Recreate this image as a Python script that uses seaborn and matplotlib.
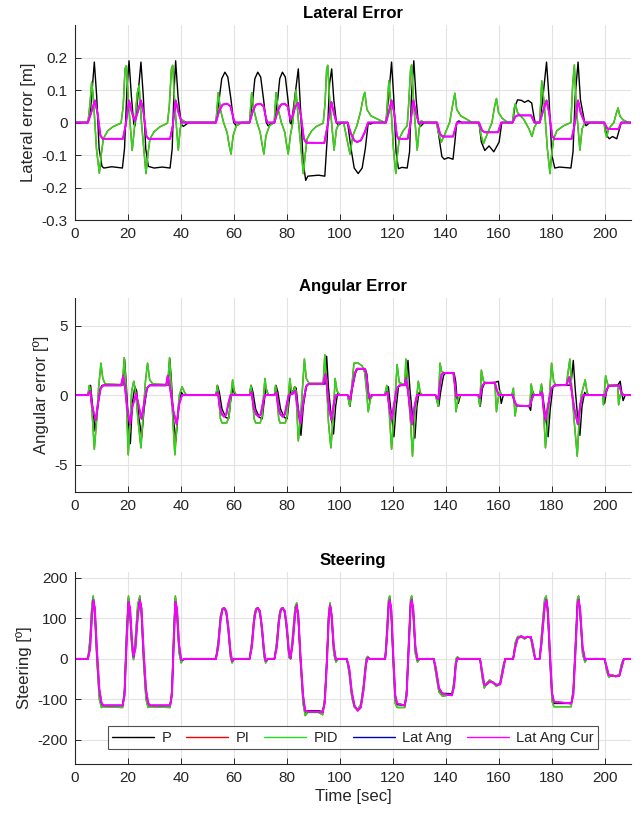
import matplotlib
matplotlib.use("Agg")
import matplotlib.pyplot as plt
from matplotlib.lines import Line2D
import seaborn as sns

# ---------------- data (time [s], value) knots ----------------
SERIES = ["P", "PI", "PID", "Lat Ang", "Lat Ang Cur"]
X_TICKS = [0, 20, 40, 60, 80, 100, 120, 140, 160, 180, 200]

LAT_TICKS = [-0.3, -0.2, -0.1, 0, 0.1, 0.2]
LAT_TICKLABELS = ["-0.3", "-0.2", "-0.1", "0", "0.1", "0.2"]
ANG_TICKS = [-5, 0, 5]
STEER_TICKS = [-200, -100, 0, 100, 200]

LAT_P = [(0, 0), (5.0, 0), (6.0, 0.04), (7.4, 0.186), (8.3, 0.08), (9.2, -0.08), (10.3, -0.135), (11.0, -0.14),
         (14.0, -0.136), (18.0, -0.14), (18.8, -0.08), (19.7, 0.1), (20.5, 0.19), (21.4, 0.08), (22.3, -0.005),
         (22.8, -0.01), (23.5, 0.05), (25.0, 0.186), (25.9, 0.08), (26.8, -0.08), (27.8, -0.135), (30.0, -0.14),
         (33.0, -0.137), (36.0, -0.14), (36.8, -0.08), (37.4, 0.08), (38.1, 0.19), (39.0, 0.08), (40.2, -0.005),
         (41.0, -0.012), (43.0, 0),
         (53.3, 0), (54.5, 0.07), (55.5, 0.135), (56.7, 0.155), (57.8, 0.14), (59.0, 0.07), (60.0, 0.0),
         (61.0, -0.01), (63.0, 0),
         (66.0, 0), (67.2, 0.07), (68.0, 0.135), (69.1, 0.155), (70.2, 0.14), (71.3, 0.07), (72.3, 0.0),
         (73.0, -0.01), (74.8, 0),
         (75.4, 0), (76.6, 0.07), (77.4, 0.135), (78.4, 0.155), (79.5, 0.14), (80.5, 0.07), (81.3, 0.0),
         (81.8, -0.005), (82.8, 0.06), (84.4, 0.165), (85.2, 0.05), (86.2, -0.12), (87.2, -0.178), (88.0, -0.165),
         (92.0, -0.162), (94.4, -0.165), (95.3, -0.05), (96.2, 0.12), (97.0, 0.165), (97.8, 0.07), (98.8, 0.0),
         (99.5, -0.008), (101.0, 0),
         (103.0, 0), (104.3, -0.08), (105.5, -0.14), (107.0, -0.157), (108.5, -0.14), (109.7, -0.08), (110.8, 0.0),
         (111.5, -0.005), (113.0, 0),
         (117.5, 0), (118.5, 0.08), (119.6, 0.186), (120.4, 0.08), (121.3, -0.09), (122.2, -0.142), (123.5, -0.138),
         (125.5, -0.14), (126.4, -0.09), (127.1, 0.08), (128.0, 0.19), (128.9, 0.07), (129.7, 0.0), (130.5, -0.012),
         (132.0, 0),
         (136.8, 0), (137.6, -0.05), (138.6, -0.105), (139.5, -0.113), (141.0, -0.108), (142.8, -0.113),
         (143.5, -0.06), (144.2, 0.0), (145.0, 0.005), (146.0, 0),
         (152.6, 0), (153.5, -0.06), (154.8, -0.086), (156.4, -0.072), (158.2, -0.09), (160.2, -0.06), (161.2, 0.0),
         (165.3, 0), (166.2, 0.05), (167.2, 0.07), (168.7, 0.068), (169.8, 0.062), (171.2, 0.068), (172.5, 0.06),
         (173.3, 0.02), (173.8, 0),
         (175.5, 0), (176.5, 0.06), (178.1, 0.186), (179.0, 0.08), (180.1, -0.1), (181.2, -0.14), (183.0, -0.137),
         (187.3, -0.14), (188.1, -0.09), (188.9, 0.08), (190.0, 0.186), (190.9, 0.07), (192.5, 0.0), (193.0, -0.01),
         (194.5, 0),
         (199.9, 0), (200.8, -0.04), (201.8, -0.05), (203.0, -0.043), (204.6, -0.05), (205.3, -0.03), (206.3, 0.0),
         (210.0, 0)]

LAT_PID = [(0, 0), (5.0, 0), (5.8, 0.06), (6.4, 0.124), (7.0, 0.08), (8.2, -0.08), (9.3, -0.156), (10.0, -0.1),
           (10.8, -0.05), (12.5, -0.025), (14.6, -0.012), (17.5, -0.002), (18.3, 0.05), (19.0, 0.165), (19.5, 0.175),
           (20.3, 0.06), (21.7, -0.086), (22.5, -0.02), (23.6, 0.09), (24.3, 0.114), (25.2, 0.0), (26.9, -0.157),
           (27.6, -0.1), (28.4, -0.05), (30.0, -0.028), (32.2, -0.013), (35.0, -0.002), (35.7, 0.05), (36.5, 0.165),
           (37.0, 0.176), (37.8, 0.05), (39.1, -0.085), (39.8, -0.02), (40.6, 0.008), (42.0, 0),
           (53.3, 0), (54.2, 0.092), (55.0, 0.04), (56.2, 0.0), (57.5, -0.03), (58.3, -0.07), (59.0, -0.097),
           (59.8, -0.04), (61.0, -0.01), (63.0, 0),
           (66.0, 0), (66.8, 0.092), (67.6, 0.04), (68.8, 0.0), (70.0, -0.03), (70.8, -0.07), (71.4, -0.097),
           (72.2, -0.04), (73.5, -0.01), (75.3, 0),
           (76.0, 0.092), (76.8, 0.04), (78.0, 0.0), (79.3, -0.03), (80.0, -0.07), (80.6, -0.097), (81.4, -0.04),
           (82.3, 0.0), (83.5, 0.1), (84.5, 0.0), (86.3, -0.157), (87.0, -0.1), (87.7, -0.05), (89.5, -0.025),
           (91.2, -0.012), (93.8, -0.002), (94.5, 0.06), (95.1, 0.165), (95.5, 0.176), (96.3, 0.06), (97.9, -0.085),
           (98.8, -0.02), (100.0, 0),
           (101.5, 0), (102.5, -0.04), (103.9, -0.097), (105.0, -0.04), (106.5, -0.01), (107.8, 0.03), (109.0, 0.08),
           (109.5, 0.093), (110.3, 0.04), (111.9, 0.02), (115.0, 0.008), (117.0, 0),
           (117.5, 0), (118.0, 0.06), (118.6, 0.128), (119.3, 0.06), (120.3, -0.08), (121.2, -0.157), (121.8, -0.1),
           (122.5, -0.05), (124.0, -0.025), (125.5, -0.01), (126.0, 0.05), (126.8, 0.165), (127.2, 0.177),
           (128.0, 0.05), (129.3, -0.085), (130.0, -0.02), (130.8, 0.005), (132.0, 0),
           (136.6, 0), (137.2, -0.03), (138.4, -0.06), (139.5, -0.04), (141.5, 0.0), (142.8, 0.06), (143.5, 0.09),
           (144.2, 0.04), (145.8, 0.02), (148.0, 0.01), (150.0, 0),
           (152.6, 0), (153.4, -0.04), (154.3, -0.065), (155.5, -0.04), (157.5, 0.0), (158.5, 0.05), (159.2, 0.074),
           (160.0, 0.03), (161.5, 0.012), (163.5, 0),
           (165.3, 0), (165.8, 0.04), (166.3, 0.057), (167.2, 0.03), (169.5, 0.01), (171.5, -0.02), (172.6, -0.043),
           (173.5, -0.015), (174.5, 0),
           (175.5, 0), (175.9, 0.06), (176.3, 0.128), (177.2, 0.06), (178.4, -0.08), (179.4, -0.157), (180.0, -0.1),
           (180.8, -0.05), (182.0, -0.025), (184.5, -0.01), (187.3, 0.0), (188.0, 0.12), (188.6, 0.177),
           (189.3, 0.05), (190.7, -0.085), (191.5, -0.02), (192.6, 0.0), (194.0, 0),
           (199.8, 0), (200.3, -0.03), (200.8, -0.045), (201.5, -0.02), (203.5, 0.0), (204.5, 0.03), (205.1, 0.045),
           (205.8, 0.02), (207.0, 0.008), (209.0, 0), (210.0, 0)]

LAT_LAC = [(0, 0), (5.0, 0), (6.2, 0.03), (7.6, 0.068), (8.6, 0.03), (9.7, -0.04), (10.6, -0.05), (18.2, -0.05),
           (19.2, -0.01), (20.5, 0.068), (21.6, 0.03), (22.7, 0.005), (23.7, 0.03), (25.0, 0.068), (26.0, 0.03),
           (27.0, -0.04), (27.8, -0.05), (36.0, -0.05), (37.0, -0.01), (38.1, 0.068), (39.2, 0.03), (40.4, 0.0),
           (53.3, 0), (54.5, 0.035), (55.8, 0.055), (57.5, 0.058), (58.8, 0.05), (60.0, 0.01), (60.5, 0),
           (66.0, 0), (67.2, 0.035), (68.4, 0.055), (70.0, 0.058), (71.3, 0.05), (72.3, 0.01), (72.8, 0),
           (75.4, 0), (76.6, 0.035), (77.8, 0.055), (79.2, 0.058), (80.4, 0.05), (81.4, 0.01), (82.2, 0.02),
           (83.3, 0.05), (84.4, 0.06), (85.4, 0.02), (86.5, -0.05), (87.4, -0.062), (94.2, -0.063), (95.2, -0.02),
           (96.9, 0.063), (97.8, 0.03), (98.8, 0),
           (103.0, 0), (104.3, -0.035), (105.5, -0.055), (106.6, -0.06), (108.0, -0.055), (109.5, -0.03), (110.7, 0),
           (117.5, 0), (118.5, 0.03), (119.6, 0.068), (120.6, 0.03), (121.6, -0.04), (122.2, -0.05), (125.7, -0.05),
           (126.6, -0.01), (127.8, 0.068), (128.8, 0.03), (129.8, 0),
           (136.8, 0), (137.9, -0.035), (138.8, -0.043), (142.8, -0.043), (143.8, -0.015), (144.3, 0),
           (152.6, 0), (153.8, -0.025), (154.8, -0.03), (159.8, -0.03), (161.0, 0),
           (165.3, 0), (166.3, 0.018), (167.2, 0.022), (172.3, 0.022), (173.5, 0),
           (175.5, 0), (176.6, 0.03), (178.1, 0.068), (179.1, 0.03), (180.2, -0.04), (181.0, -0.05), (187.6, -0.05),
           (188.6, -0.01), (190.0, 0.068), (191.0, 0.03), (192.5, 0),
           (199.9, 0), (201.0, -0.018), (201.8, -0.02), (205.3, -0.02), (206.3, 0), (210.0, 0)]

ANG_P = [(0, 0), (5.0, 0), (5.6, 0.6), (6.0, 0.7), (6.6, -0.5), (7.7, -2.6), (8.4, -1.5), (9.3, 0.3), (10.3, 0.7),
         (18.2, 0.72), (18.8, 2.6), (19.4, 1.0), (20.2, -1.8), (21.0, -3.5), (21.8, -0.5), (22.7, 0.6), (23.4, 0.3),
         (24.2, -1.6), (25.3, -3.0), (26.2, -1.0), (27.3, 0.5), (28.5, 0.72), (35.3, 0.72), (35.9, 2.6),
         (36.5, 1.0), (37.3, -1.8), (38.2, -3.3), (39.2, -0.8), (40.3, 0.2), (41.0, 0),
         (53.3, 0), (53.9, 0.7), (54.6, 0.2), (55.6, -1.0), (57.0, -1.6), (58.1, -1.7), (58.8, -0.5), (59.6, 0.5),
         (60.3, 0.1), (61.0, 0),
         (66.0, 0), (66.6, 0.7), (67.3, 0.2), (68.3, -1.0), (69.7, -1.6), (70.8, -1.7), (71.5, -0.5), (72.2, 0.5),
         (72.9, 0.1), (73.5, 0),
         (75.4, 0), (76.0, 0.7), (76.7, 0.2), (77.7, -1.0), (79.1, -1.6), (80.2, -1.7), (80.9, -0.5), (81.6, 0.5),
         (82.2, 0.1), (83.0, 0.6), (83.6, 0.5), (84.5, -1.2), (85.4, -2.9), (86.3, -0.8), (87.5, 0.7), (88.5, 0.8),
         (94.5, 0.8), (95.1, 2.8), (95.8, 0.5), (96.8, -1.5), (97.7, -2.8), (98.5, -0.8), (99.3, 0.2), (100.0, 0),
         (103.0, 0), (103.9, -0.8), (104.8, 0.5), (106.0, 1.6), (106.8, 1.9), (109.6, 1.9), (110.3, 1.5),
         (110.8, 0.3), (111.3, -0.4), (112.0, 0),
         (117.0, 0), (118.4, 0.6), (119.0, -0.5), (120.5, -3.0), (121.3, -1.0), (122.2, 0.6), (123.0, 0.7),
         (125.0, 0.72), (125.8, 2.5), (126.5, 0.5), (127.5, -1.5), (128.4, -3.1), (129.2, -0.8), (130.0, 0.2),
         (130.8, 0),
         (136.2, 0), (137.4, -0.8), (138.2, 0.3), (139.2, 1.4), (140.0, 1.6), (143.2, 1.6), (143.8, 1.0),
         (144.3, -0.2), (144.8, -0.6), (145.6, 0),
         (152.4, 0), (153.1, -0.8), (153.9, 0.5), (154.8, 0.9), (158.5, 0.9), (159.9, 1.0), (160.5, 0.2),
         (161.0, -0.6), (161.8, 0),
         (165.3, 0), (166.0, -0.6), (166.8, -0.75), (171.4, -0.8), (172.1, -1.1), (172.8, 0.3), (173.5, 0),
         (175.5, 0), (176.3, 0.6), (177.0, -0.5), (178.7, -3.0), (179.5, -1.0), (180.5, 0.6), (181.5, 0.7),
         (187.3, 0.72), (188.2, 2.5), (188.9, 0.5), (189.8, -1.5), (190.7, -2.9), (191.5, -0.8), (192.5, 0.2),
         (193.2, 0),
         (199.4, 0), (200.0, -0.6), (200.8, 0.3), (201.5, 0.7), (205.0, 0.72), (205.9, 1.0), (206.5, 0.2),
         (207.0, -0.4), (207.8, 0), (210.0, 0)]

ANG_PID = [(0, 0), (5.0, 0), (5.5, 0.7), (6.0, 0.3), (6.8, -2.0), (7.4, -3.9), (8.2, -2.0), (9.0, 0.5), (9.9, 2.3),
           (10.6, 1.2), (11.5, 0.8), (18.0, 0.75), (18.7, 2.7), (19.3, 0.8), (19.8, -2.0), (20.2, -4.3),
           (20.9, -2.0), (21.5, 0.3), (22.3, 1.0), (23.0, 0.2), (24.0, -2.0), (25.0, -3.8), (25.8, -1.5),
           (26.7, 1.0), (27.5, 2.3), (28.3, 1.1), (29.5, 0.8), (35.1, 0.75), (35.8, 2.7), (36.5, 0.5), (37.1, -2.0),
           (37.8, -4.3), (38.6, -2.0), (39.5, 0.0), (40.5, 0.6), (41.5, 0.2), (42.2, 0),
           (53.4, 0), (53.8, 0.7), (54.3, 0.0), (55.0, -1.7), (55.6, -2.0), (57.4, -2.0), (58.3, -1.5), (59.0, 0.0),
           (59.6, 1.1), (60.2, 0.3), (61.0, 0),
           (66.0, 0), (66.5, 0.7), (67.0, 0.0), (67.7, -1.7), (68.3, -2.0), (70.0, -2.0), (70.8, -1.5), (71.3, 0.0),
           (71.8, 1.2), (72.4, 0.3), (73.2, 0),
           (75.4, 0), (75.8, 0.7), (76.3, 0.0), (77.0, -1.7), (77.5, -2.0), (79.5, -2.0), (80.2, -1.5), (80.7, 0.0),
           (81.2, 1.2), (81.8, 0.3), (82.5, 0.1), (83.0, 0.6), (83.5, 0.3), (84.4, -3.3), (85.3, -1.5), (86.0, 0.5),
           (86.7, 2.6), (87.4, 1.2), (88.5, 0.85), (93.8, 0.85), (94.4, 2.9), (95.1, 0.8), (95.8, -2.0),
           (96.7, -3.8), (97.6, -1.5), (98.3, 1.2), (99.0, 0.3), (100.0, 0),
           (103.0, 0), (103.8, -0.8), (104.6, 0.6), (105.4, 2.3), (107.0, 2.3), (108.5, 2.1), (109.5, 1.6),
           (110.2, 0.2), (110.8, -1.2), (111.6, -0.3), (112.5, 0),
           (117.0, 0), (117.8, 0.7), (118.5, -0.5), (119.6, -3.9), (120.5, -1.5), (121.7, 2.2), (122.5, 0.9),
           (124.6, 0.75), (125.0, 2.6), (125.8, 0.5), (126.8, -2.0), (127.5, -4.4), (128.4, -1.5), (129.7, 1.0),
           (130.4, 0.2), (131.2, 0),
           (136.2, 0), (137.2, -0.8), (137.9, 2.3), (138.5, 1.7), (139.5, 1.6), (143.0, 1.6), (143.5, 0.5),
           (143.9, -1.2), (144.7, -0.3), (145.5, 0),
           (152.3, 0), (152.9, -0.8), (153.5, 1.8), (154.3, 1.0), (155.0, 0.9), (158.6, 0.9), (159.2, -1.2),
           (159.9, -0.2), (160.5, 0.3), (161.2, 0),
           (165.0, 0), (165.6, 0.5), (166.2, -1.5), (166.9, -0.7), (167.5, -0.8), (171.5, -0.8), (171.9, -0.5),
           (172.3, 0.8), (173.0, 0.1), (173.6, 0),
           (175.5, 0), (176.2, 0.8), (176.8, -0.5), (177.7, -3.8), (178.7, -1.5), (180.0, 2.3), (180.8, 1.0),
           (181.5, 0.75), (185.6, 0.75), (186.9, 2.6), (187.6, 0.5), (188.6, -2.0), (189.7, -4.4), (190.5, -1.5),
           (191.2, 0.0), (192.7, 1.1), (193.4, 0.2), (194.0, 0),
           (199.3, 0), (199.6, -0.7), (200.4, 1.4), (201.0, 0.9), (201.4, 0.7), (205.0, 0.7), (205.3, -0.7),
           (205.9, 0.0), (206.5, 0.2), (207.3, 0), (210.0, 0)]

ANG_LAC = [(0, 0), (5.0, 0), (5.8, 0.3), (6.6, -0.8), (7.9, -1.8), (8.8, -0.6), (9.8, 0.5), (10.8, 0.7),
           (17.5, 0.7), (18.3, 1.4), (19.0, 0.5), (20.0, -1.2), (20.9, -2.1), (21.8, -0.8), (23.2, 0.1),
           (24.2, -0.8), (25.2, -1.7), (26.2, -0.6), (27.3, 0.5), (28.3, 0.7), (34.5, 0.7), (35.1, 1.4),
           (36.0, 0.5), (37.3, -1.2), (38.5, -2.1), (39.5, -0.6), (40.5, 0.0),
           (53.3, 0), (54.0, 0.2), (54.8, -0.9), (55.6, -1.4), (56.4, -1.55), (57.2, -1.4), (58.0, -0.6), (58.8, 0.0),
           (66.0, 0), (66.7, 0.2), (67.6, -0.9), (68.5, -1.4), (69.4, -1.55), (70.2, -1.4), (71.0, -0.6), (71.8, 0.0),
           (75.4, 0), (76.1, 0.2), (76.9, -0.9), (77.7, -1.4), (78.5, -1.55), (79.3, -1.4), (80.1, -0.6), (80.8, 0.0),
           (82.2, 0.1), (83.2, 0.3), (84.3, -1.0), (85.3, -2.0), (86.2, -0.6), (87.3, 0.6), (88.2, 0.8), (93.8, 0.8),
           (94.6, 1.5), (95.4, 0.3), (96.1, -1.0), (96.9, -1.8), (97.8, -0.6), (98.6, 0.0),
           (103.0, 0), (103.9, -0.3), (104.8, 0.6), (105.8, 1.6), (106.5, 1.9), (109.6, 1.9), (110.2, 1.3),
           (110.8, 0.2), (111.3, -0.2), (112.0, 0),
           (117.0, 0), (118.0, 0.2), (118.7, -0.8), (119.6, -1.8), (120.6, -0.6), (121.7, 0.5), (122.5, 0.7),
           (124.6, 0.72), (125.0, 1.2), (125.8, 0.3), (126.6, -1.0), (127.3, -2.1), (128.3, -0.8), (129.2, 0.0),
           (136.2, 0), (137.2, -0.3), (137.9, 0.8), (138.5, 1.5), (139.5, 1.6), (142.9, 1.6), (143.5, 0.8),
           (144.0, -0.1), (144.6, 0),
           (152.3, 0), (153.0, -0.2), (153.7, 0.6), (154.5, 0.85), (158.6, 0.9), (159.3, 0.4), (160.0, 0.0),
           (165.3, 0), (166.2, -0.5), (166.8, -0.75), (171.9, -0.8), (172.5, -0.3), (173.2, 0),
           (175.5, 0), (176.4, 0.2), (176.9, -0.8), (177.7, -1.8), (178.8, -0.6), (180.0, 0.5), (181.0, 0.7),
           (185.6, 0.72), (186.7, 1.3), (187.6, 0.3), (188.6, -1.0), (189.9, -2.1), (190.9, -0.6), (191.9, 0.0),
           (199.5, 0), (200.2, -0.1), (200.8, 0.4), (201.6, 0.65), (205.6, 0.7), (206.3, 0.2), (206.9, 0),
           (210.0, 0)]

STEER_T = [0, 5.0, 5.8, 6.5, 7.0, 7.6, 8.4, 9.3, 10.1, 10.8, 18.1, 18.8, 19.6, 20.3, 20.9, 21.6, 22.2, 22.9, 23.8,
           24.6, 25.2, 26.0, 26.9, 27.7, 28.4, 36.0, 36.7, 37.4, 38.0, 38.6, 39.4, 40.2, 40.8, 41.6,
           53.3, 54.2, 55.0, 55.7, 56.4, 57.2, 58.0, 58.8, 59.4, 60.2,
           66.0, 66.9, 67.7, 68.4, 69.1, 69.9, 70.7, 71.5, 72.1, 72.9,
           75.4, 76.3, 77.1, 77.8, 78.5, 79.3, 80.1, 80.9, 81.5, 82.3, 83.2, 83.8, 84.4, 85.2, 86.2, 87.0, 88.0,
           92.0, 93.6, 94.4, 95.2, 95.9, 96.4, 97.0, 97.8, 98.6, 99.5,
           102.7, 103.6, 104.6, 105.6, 106.8, 108.0, 109.0, 110.0, 110.6, 111.3,
           117.2, 117.8, 118.5, 118.9, 119.5, 120.2, 121.0, 121.7, 124.6, 125.3, 126.1, 126.8, 127.2, 127.8, 128.6,
           129.4, 130.2,
           135.5, 136.3, 137.5, 138.8, 142.4, 143.2, 143.9, 144.5, 145.2,
           153.0, 153.8, 154.6, 155.6, 156.6, 157.8, 159.2, 160.6, 161.6, 162.5,
           165.5, 166.3, 167.2, 168.5, 169.8, 171.0, 172.2, 173.0, 173.8,
           175.5, 176.2, 177.4, 178.0, 178.6, 179.4, 180.2, 180.9, 187.4, 188.2, 189.1, 189.8, 190.2, 190.8, 191.7,
           192.6, 193.4,
           200.0, 200.8, 201.6, 203.0, 204.2, 205.6, 206.5, 207.3, 210.0]

STEER_P = [0, 0, 40, 125, 150, 110, 0, -90, -113, -115, -115, -80, 60, 150, 110, 30, 2, 40, 125,
           150, 110, 0, -90, -113, -115, -115, -80, 60, 150, 110, 20, -8, -3, 0,
           0, 40, 100, 122, 125, 115, 70, 10, -8, 0,
           0, 40, 100, 122, 125, 115, 70, 10, -8, 0,
           0, 40, 100, 122, 125, 115, 70, 8, 0, 50, 120, 135, 100, 0, -100, -132, -128,
           -128, -130, -100, 0, 110, 135, 100, 20, -5, 0,
           0, -30, -90, -118, -125, -115, -70, -5, 5, 0,
           0, 60, 140, 150, 110, 0, -100, -113, -115, -80, 40, 140, 150, 110, 20,
           -5, 0,
           0, -30, -78, -85, -86, -60, -5, 3, 0,
           0, -40, -68, -60, -54, -58, -66, -60, -25, 0,
           0, 35, 52, 55, 50, 55, 52, 25, 0,
           0, 50, 140, 150, 110, 0, -95, -110, -110, -80, 40, 140, 150, 110, 20,
           -5, 0,
           0, -25, -42, -40, -43, -40, -15, 0, 0]

STEER_PID = [0, 0, 50, 135, 155, 105, -5, -100, -120, -118, -120, -75, 70, 155, 105, 25, -2, 50, 135,
             155, 105, -5, -100, -120, -118, -120, -75, 70, 155, 105, 15, -10, -3, 0,
             0, 45, 105, 124, 125, 112, 65, 5, -10, 0,
             0, 45, 105, 124, 125, 112, 65, 5, -10, 0,
             0, 45, 105, 124, 125, 112, 65, 3, 0, 60, 128, 138, 95, -8, -110, -140, -132,
             -132, -138, -95, 8, 118, 138, 95, 12, -8, 0,
             0, -35, -95, -120, -125, -112, -65, 0, 6, 0,
             0, 70, 148, 155, 105, -8, -110, -120, -120, -75, 50, 148, 155, 105, 12,
             -8, 0,
             0, -35, -82, -92, -88, -55, 0, 5, 0,
             0, -45, -72, -60, -52, -58, -68, -58, -20, 0,
             0, 40, 55, 55, 49, 55, 50, 20, 0,
             0, 58, 148, 155, 105, -8, -105, -118, -118, -75, 50, 148, 155, 105, 12,
             -8, 0,
             0, -30, -45, -40, -44, -38, -10, 0, 0]

STEER_LAC = [0, 0, 25, 105, 145, 125, 20, -75, -108, -115, -115, -90, 40, 140, 125, 45, 5, 25, 105,
             145, 125, 20, -75, -108, -115, -115, -90, 40, 140, 125, 35, -3, -2, 0,
             0, 30, 92, 120, 126, 118, 78, 18, -5, 0,
             0, 30, 92, 120, 126, 118, 78, 18, -5, 0,
             0, 30, 92, 120, 126, 118, 78, 15, 2, 40, 110, 132, 108, 10, -90, -128, -130,
             -130, -132, -108, -10, 100, 132, 108, 30, -2, 0,
             0, -22, -82, -115, -128, -120, -78, -12, 3, 0,
             0, 45, 128, 146, 122, 15, -90, -110, -115, -90, 28, 130, 146, 122, 30,
             -2, 0,
             0, -22, -72, -86, -90, -68, -12, 1, 0,
             0, -32, -64, -63, -56, -58, -64, -63, -32, 0,
             0, 28, 50, 56, 52, 54, 54, 32, 0,
             0, 38, 128, 146, 122, 15, -85, -106, -110, -90, 28, 130, 146, 122, 30,
             -2, 0,
             0, -20, -40, -42, -43, -42, -20, 0, 0]

COLORS = {"P": "#000000", "PI": "#ff0000", "PID": "#22dd22", "Lat Ang": "#0000b4", "Lat Ang Cur": "#ff00ff"}
WIDTHS = {"P": 1.0, "PI": 1.0, "PID": 1.1, "Lat Ang": 1.1, "Lat Ang Cur": 1.4}

# ---------------- style ----------------
sns.set_style("ticks")
plt.rcParams["font.family"] = ["Liberation Sans", "DejaVu Sans"]
plt.rcParams["axes.unicode_minus"] = False
DARK = "#262626"

fig = plt.figure(figsize=(6.43, 8.21), dpi=100)
L, W = 0.1162, 0.8652
ax1 = fig.add_axes([L, 0.7320, W, 0.2375])
ax2 = fig.add_axes([L, 0.4004, W, 0.2367])
ax3 = fig.add_axes([L, 0.0691, W, 0.2346])


def draw(ax, knots, name):
    t = [k[0] for k in knots]
    v = [k[1] for k in knots]
    sns.lineplot(x=t, y=v, ax=ax, color=COLORS[name], lw=WIDTHS[name],
                 estimator=None, sort=False, legend=False)


def draw_xy(ax, t, v, name):
    sns.lineplot(x=t, y=v, ax=ax, color=COLORS[name], lw=WIDTHS[name],
                 estimator=None, sort=False, legend=False)


# Lateral error
draw(ax1, LAT_P, "P")
draw(ax1, LAT_PID, "PI")
draw(ax1, LAT_PID, "PID")
draw(ax1, LAT_LAC, "Lat Ang")
draw(ax1, LAT_LAC, "Lat Ang Cur")
# Angular error
draw(ax2, ANG_P, "P")
draw(ax2, ANG_PID, "PI")
draw(ax2, ANG_PID, "PID")
draw(ax2, ANG_LAC, "Lat Ang")
draw(ax2, ANG_LAC, "Lat Ang Cur")
# Steering
draw_xy(ax3, STEER_T, STEER_P, "P")
draw_xy(ax3, STEER_T, STEER_PID, "PI")
draw_xy(ax3, STEER_T, STEER_PID, "PID")
draw_xy(ax3, STEER_T, STEER_LAC, "Lat Ang")
draw_xy(ax3, STEER_T, STEER_LAC, "Lat Ang Cur")

for ax, title, ylabel in [(ax1, "Lateral Error", "Lateral error [m]"),
                          (ax2, "Angular Error", "Angular error [º]"),
                          (ax3, "Steering", "Steering [º]")]:
    ax.set_xlim(0, 210)
    ax.set_xticks(X_TICKS)
    ax.set_xticklabels([str(x) for x in X_TICKS])
    ax.set_title(title, fontsize=12, fontweight="bold", pad=5, color="black")
    ax.set_ylabel(ylabel, fontsize=12.1, color=DARK, labelpad=4)
    ax.set_xlabel("")
    ax.grid(True, color="#e3e3e3", lw=0.8)
    ax.set_axisbelow(True)
    ax.tick_params(direction="in", length=4, width=0.7, colors=DARK, labelsize=11, pad=5)
    for s in ["top", "right"]:
        ax.spines[s].set_visible(False)
    for s in ["left", "bottom"]:
        ax.spines[s].set_color(DARK)
        ax.spines[s].set_linewidth(0.8)

ax1.set_ylim(-0.3, 0.3)
ax1.set_yticks(LAT_TICKS)
ax1.set_yticklabels(LAT_TICKLABELS)
ax2.set_ylim(-7, 7)
ax2.set_yticks(ANG_TICKS)
ax2.set_yticklabels([str(v) for v in ANG_TICKS])
ax3.set_ylim(-260, 215)
ax3.set_yticks(STEER_TICKS)
ax3.set_yticklabels([str(v) for v in STEER_TICKS])
ax3.set_xlabel("Time [sec]", fontsize=12.1, color=DARK, labelpad=3)

handles = [Line2D([0], [0], color=COLORS[n], lw=1.0) for n in SERIES]
leg = ax3.legend(handles, SERIES, loc="lower center", bbox_to_anchor=(0.5, 0.079), ncol=5,
                 fontsize=10.5, handlelength=2.9, columnspacing=1.0, handletextpad=0.5,
                 frameon=True, fancybox=False, borderaxespad=0, borderpad=0.3)
leg.get_frame().set_edgecolor(DARK)
leg.get_frame().set_linewidth(0.8)

fig.savefig("out.png", dpi=100, facecolor="white")
